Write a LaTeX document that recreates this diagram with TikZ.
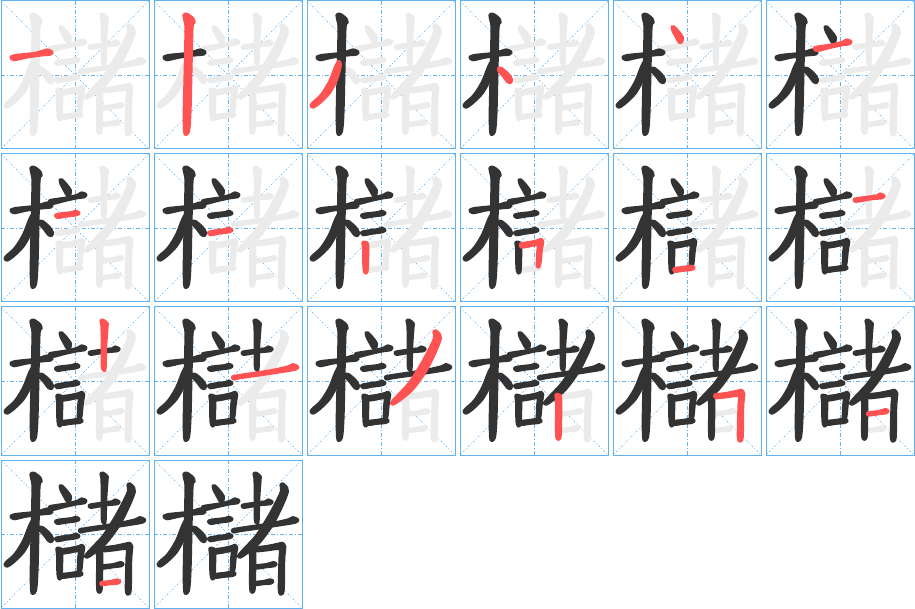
\documentclass[tikz,border=0pt]{standalone}
\definecolor{skdark}{HTML}{333333}
\definecolor{skred}{HTML}{FF5252}
\definecolor{skgray}{HTML}{EBEBEB}
\definecolor{gridblue}{HTML}{62B2F0}
\tikzset{
  cellborder/.style={draw=gridblue, line width=1pt},
  guide/.style={draw=gridblue, line width=0.7pt, dash pattern=on 4pt off 2pt on 1pt off 2pt},
  diag/.style={draw=gridblue, line width=0.6pt, dash pattern=on 2pt off 2pt on 1pt off 2pt},
  stk/.style={fill=#1, draw=#1, line width=2.6pt, line join=round}
}
\newcommand\drawstroke[2]{%
\ifcase#1\relax
\or % 1 mu horizontal
\path[stk=#2] plot[smooth cycle] coordinates {(32,172) (45,166) (100,160) (128,153) (142,149) (156,155) (152,163) (130,165) (80,172) (42,180)};
\or % 2 mu vertical
\path[stk=#2] plot[smooth cycle] coordinates {(92,45) (102,42) (120,55) (124,68) (118,82) (115,200) (112,330) (108,390) (100,404) (94,395) (93,330) (96,200) (98,85) (95,62)};
\or % 3 mu left-falling
\path[stk=#2] plot[smooth cycle] coordinates {(98,183) (104,195) (92,240) (70,280) (40,310) (22,322) (15,318) (18,310) (45,285) (70,245) (88,200)};
\or % 4 mu dot
\path[stk=#2] plot[smooth cycle] coordinates {(118,205) (128,205) (148,222) (158,238) (155,248) (146,246) (132,228) (119,213)};
\or % 5 yan dot
\path[stk=#2] plot[smooth cycle] coordinates {(180,80) (186,80) (200,95) (212,112) (210,125) (202,128) (194,115) (182,92)};
\or % 6 yan h1
\path[stk=#2] plot[smooth cycle] coordinates {(148,143) (160,140) (200,134) (232,126) (245,119) (258,124) (254,132) (232,135) (195,143) (160,152) (150,150)};
\or % 7 yan h2
\path[stk=#2] plot[smooth cycle] coordinates {(166,186) (180,182) (215,178) (228,174) (238,180) (230,186) (200,190) (172,194)};
\or % 8 yan h3
\path[stk=#2] plot[smooth cycle] coordinates {(166,238) (180,234) (215,229) (228,225) (238,231) (230,237) (200,241) (172,246)};
\or % 9 kou left
\path[stk=#2] plot[smooth cycle] coordinates {(170,268) (180,268) (186,278) (185,340) (183,358) (177,360) (173,345) (172,290)};
\or % 10 kou hook
\path[stk=#2] plot[smooth cycle, tension=0.4] coordinates {(184,272) (210,268) (236,262) (246,258) (252,266) (248,290) (244,330) (240,342) (234,340) (235,300) (236,276) (210,280) (186,283)};
\or % 11 kou bottom
\path[stk=#2] plot[smooth cycle] coordinates {(186,346) (210,343) (238,339) (247,344) (240,350) (210,353) (188,356)};
\or % 12 tu short h
\path[stk=#2] plot[smooth cycle] coordinates {(268,138) (290,134) (335,128) (345,122) (358,128) (352,135) (320,138) (272,146)};
\or % 13 tu vertical
\path[stk=#2] plot[smooth cycle] coordinates {(302,44) (310,42) (322,52) (322,62) (318,120) (316,188) (310,192) (306,180) (306,120) (305,60)};
\or % 14 long horizontal
\path[stk=#2] plot[smooth cycle] coordinates {(238,212) (270,206) (350,194) (405,182) (420,175) (435,182) (428,190) (395,196) (330,206) (260,216) (242,220)};
\or % 15 pie
\path[stk=#2] plot[smooth cycle] coordinates {(383,78) (390,74) (402,86) (404,98) (390,135) (360,195) (320,250) (285,280) (262,295) (256,290) (275,268) (310,230) (345,175) (372,125) (385,95)};
\or % 16 ri left
\path[stk=#2] plot[smooth cycle] coordinates {(290,266) (300,266) (306,278) (305,380) (302,398) (296,400) (292,385) (292,290)};
\or % 17 ri hook
\path[stk=#2] plot[smooth cycle, tension=0.4] coordinates {(308,266) (340,262) (375,255) (388,252) (396,262) (393,300) (392,380) (390,402) (382,406) (378,390) (380,300) (380,270) (345,273) (312,276)};
\or % 18 ri middle
\path[stk=#2] plot[smooth cycle] coordinates {(308,320) (340,316) (362,310) (370,315) (364,321) (340,324) (310,328)};
\or % 19 ri bottom
\path[stk=#2] plot[smooth cycle] coordinates {(303,370) (330,367) (352,362) (360,367) (354,373) (330,375) (305,378)};
\fi}
\begin{document}
\begin{tikzpicture}[x=1pt,y=-1pt]
\useasboundingbox (0,0) rectangle (915,609);
\foreach \k in {1,...,20}{
  \pgfmathtruncatemacro\col{mod(\k-1,6)}
  \pgfmathtruncatemacro\row{floor((\k-1)/6)}
  \begin{scope}[shift={(\col*153,\row*153)}]
    \draw[guide] (75,1) -- (75,149);
    \draw[guide] (1,75) -- (149,75);
    \draw[diag] (1,1) -- (149,149);
    \draw[diag] (149,1) -- (1,149);
    \draw[cellborder] (1,1) rectangle (149,149);
    \begin{scope}[scale=1/3]
      % untouched strokes in light grey
      \foreach \s in {1,...,19}{
        \ifnum\s>\k\relax \drawstroke{\s}{skgray}\fi
      }
      % finished strokes in dark grey
      \foreach \s in {1,...,19}{
        \ifnum\s<\k\relax \drawstroke{\s}{skdark}\fi
      }
      % current stroke in red, on top
      \ifnum\k<20\relax \drawstroke{\k}{skred}\fi
    \end{scope}
  \end{scope}
}
\end{tikzpicture}
\end{document}
